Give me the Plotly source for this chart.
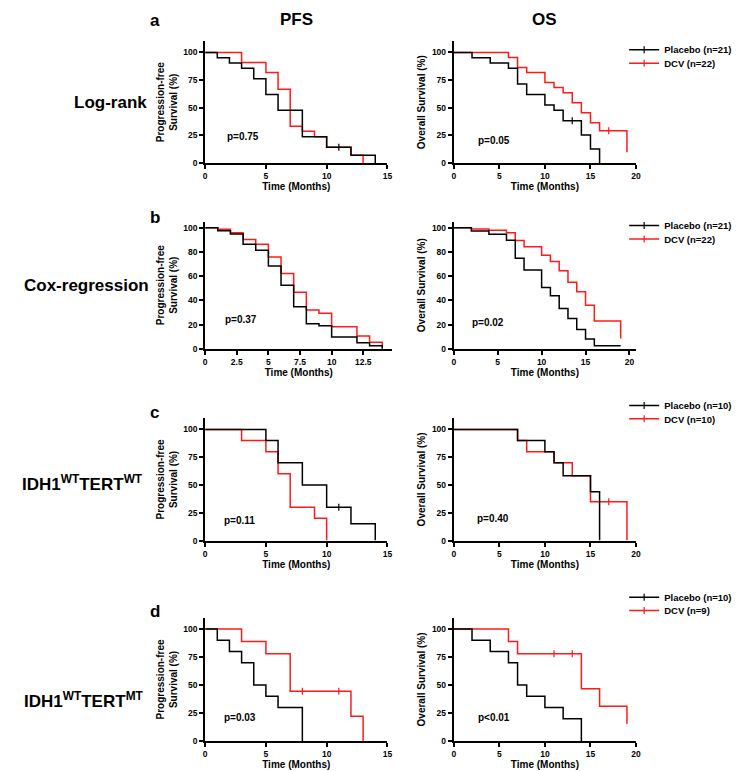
import plotly.graph_objects as go

FONT = "Arial, 'Liberation Sans', sans-serif"
W, H = 743, 771
BLACK = '#000000'
RED = '#ff1a1a'

# ---- data (time in months, survival in %) ----
# a: log-rank
a_pfs_plc_t = [0, 1, 2, 3, 4, 5, 6, 8, 10, 12, 14]
a_pfs_plc_s = [100, 95.2, 90.5, 85.7, 76.2, 61.9, 47.6, 23.8, 14.3, 7.1, 0]
a_pfs_plc_c = [11]
a_pfs_dcv_t = [0, 3, 5, 6, 7, 8, 9, 10, 12, 13]
a_pfs_dcv_s = [100, 90.9, 81.8, 66.7, 33.3, 28.6, 23.8, 14.3, 7.1, 0]
a_pfs_dcv_c = []
a_os_plc_t = [0, 2, 4, 6, 7, 8, 10, 11, 12, 14, 15, 16]
a_os_plc_s = [100, 95.2, 90.5, 85.7, 71.4, 61.9, 52.4, 47.6, 38.1, 25.4, 12.7, 0]
a_os_plc_c = [13]
a_os_dcv_t = [0, 6, 7, 8, 10, 11, 12, 13, 14, 15, 16, 19]
a_os_dcv_s = [100, 95.5, 86.4, 81.8, 72.7, 68.2, 63.6, 54.5, 45.5, 36.4, 29.1, 9.7]
a_os_dcv_c = [17]

# b: cox-regression
b_pfs_plc_t = [0, 1, 2, 3, 4, 5, 6, 7, 8, 9, 10, 12, 13, 14]
b_pfs_plc_s = [100, 97.5, 94.7, 86.4, 81.4, 68.4, 52.5, 34.6, 20.7, 19.0, 9.8, 5.0, 2.6, 0]
b_pfs_plc_c = []
b_pfs_dcv_t = [0, 1, 2, 3, 4, 5, 6, 7, 8, 9, 10, 12, 13, 14]
b_pfs_dcv_s = [100, 98.6, 95.9, 90.2, 86.3, 75.7, 62.2, 46.6, 32.1, 29.4, 18.1, 10.6, 5.3, 0]
b_pfs_dcv_c = []
b_os_plc_t = [0, 2, 4, 6, 7, 8, 10, 11, 12, 13, 14, 15, 16, 19]
b_os_plc_s = [100, 97.3, 94.6, 89.6, 74.7, 65.0, 50.6, 43.8, 33.3, 25.0, 16.0, 8.0, 2.5, 2.5]
b_os_plc_c = []
b_os_dcv_t = [0, 2, 4, 6, 7, 8, 10, 11, 12, 13, 14, 15, 16, 19]
b_os_dcv_s = [100, 98.8, 97.8, 95.9, 89.4, 84.3, 77.2, 72.0, 64.4, 55.0, 47.0, 36.0, 23.0, 8.5]
b_os_dcv_c = []

# c: IDH1 WT / TERT WT
c_pfs_plc_t = [0, 5, 6, 8, 10, 12, 14]
c_pfs_plc_s = [100, 90, 70, 50, 30, 15, 0]
c_pfs_plc_c = [11]
c_pfs_dcv_t = [0, 3, 5, 6, 7, 9, 10]
c_pfs_dcv_s = [100, 90, 80, 60, 30, 20, 0]
c_pfs_dcv_c = []
c_os_plc_t = [0, 7, 10, 11, 12, 15, 16]
c_os_plc_s = [100, 90, 80, 70, 58.3, 43.8, 0]
c_os_plc_c = []
c_os_dcv_t = [0, 7, 8, 11, 13, 15, 19]
c_os_dcv_s = [100, 90, 80, 70, 58.3, 35.0, 0]
c_os_dcv_c = [17]

# d: IDH1 WT / TERT MT
d_pfs_plc_t = [0, 1, 2, 3, 4, 5, 6, 8]
d_pfs_plc_s = [100, 90, 80, 70, 50, 40, 30, 0]
d_pfs_plc_c = []
d_pfs_dcv_t = [0, 3, 5, 7, 12, 13]
d_pfs_dcv_s = [100, 88.9, 77.8, 44.4, 22.2, 0]
d_pfs_dcv_c = [8, 11]
d_os_plc_t = [0, 2, 4, 6, 7, 8, 10, 12, 14]
d_os_plc_s = [100, 90, 80, 70, 50, 40, 30, 20, 0]
d_os_plc_c = []
d_os_dcv_t = [0, 6, 7, 14, 16, 19]
d_os_dcv_s = [100, 88.9, 77.8, 46.7, 31.1, 15.6]
d_os_dcv_c = [11, 13]

row_labels = ['Log-rank', 'Cox-regression',
              'IDH1<sup>WT</sup>TERT<sup>WT</sup>', 'IDH1<sup>WT</sup>TERT<sup>MT</sup>']
panel_letters = ['a', 'b', 'c', 'd']
legend_names = [('Placebo (n=21)', 'DCV (n=22)'), ('Placebo (n=21)', 'DCV (n=22)'),
                ('Placebo (n=10)', 'DCV (n=10)'), ('Placebo (n=10)', 'DCV (n=9)')]
p_values = [('p=0.75', 'p=0.05'), ('p=0.37', 'p=0.02'),
            ('p=0.11', 'p=0.40'), ('p=0.03', 'p<0.01')]
pfs_ticks = [[0, 5, 10, 15], [0, 2.5, 5, 7.5, 10, 12.5], [0, 5, 10, 15], [0, 5, 10, 15]]
os_ticks = [0, 5, 10, 15, 20]
y_ticks = [[0, 25, 50, 75, 100], [0, 20, 40, 60, 80, 100], [0, 25, 50, 75, 100], [0, 25, 50, 75, 100]]

curves = [
    [(a_pfs_plc_t, a_pfs_plc_s, a_pfs_plc_c, a_pfs_dcv_t, a_pfs_dcv_s, a_pfs_dcv_c),
     (a_os_plc_t, a_os_plc_s, a_os_plc_c, a_os_dcv_t, a_os_dcv_s, a_os_dcv_c)],
    [(b_pfs_plc_t, b_pfs_plc_s, b_pfs_plc_c, b_pfs_dcv_t, b_pfs_dcv_s, b_pfs_dcv_c),
     (b_os_plc_t, b_os_plc_s, b_os_plc_c, b_os_dcv_t, b_os_dcv_s, b_os_dcv_c)],
    [(c_pfs_plc_t, c_pfs_plc_s, c_pfs_plc_c, c_pfs_dcv_t, c_pfs_dcv_s, c_pfs_dcv_c),
     (c_os_plc_t, c_os_plc_s, c_os_plc_c, c_os_dcv_t, c_os_dcv_s, c_os_dcv_c)],
    [(d_pfs_plc_t, d_pfs_plc_s, d_pfs_plc_c, d_pfs_dcv_t, d_pfs_dcv_s, d_pfs_dcv_c),
     (d_os_plc_t, d_os_plc_s, d_os_plc_c, d_os_dcv_t, d_os_dcv_s, d_os_dcv_c)],
]

# ---- layout geometry (pixels) ----
row_px = [(156, 33.6), (343, 215), (536, 413), (738, 613.7)]   # (y of 0, top of axis)
y_top = [110, 105, 110, 110]
pfs_px = [(197, 381), (197, 386), (197, 381), (197, 381)]
pfs_max = [15, 14.8, 15, 15]
os_px = (448, 632)
os_max = [20, 20.75, 20, 20]
label_y = [95, 279, 478, 697]
label_x = [101, 77, 73, 75]
letter_y = [13, 211, 407, 607]
legend_y = [42, 219, 400, 593]
p_pos = [((1.6, 24), (2.4, 20.7)), ((1.4, 23.8), (1.8, 21.5)),
         ((1.4, 17.9), (2.3, 19.7)), ((1.4, 21), (2.4, 21))]


def px_x(p):
    return p / W


def px_y(p):
    return 1 - p / H


def step_value(t, s, x):
    v = s[0]
    for ti, si in zip(t, s):
        if ti <= x:
            v = si
    return v


fig = go.Figure()
layout = dict(width=W, height=H, margin=dict(l=0, r=0, t=0, b=0),
              paper_bgcolor='white', plot_bgcolor='white', showlegend=True,
              font=dict(family=FONT, color='black'))
annotations = []
tick_font = dict(family=FONT, size=8.5, color='black', weight='bold')
title_font = dict(family=FONT, size=10, color='black', weight='bold')

n = 0
for r in range(4):
    ydom = [px_y(row_px[r][0]), px_y(row_px[r][1])]
    for c in range(2):
        n += 1
        xa = 'xaxis' if n == 1 else 'xaxis%d' % n
        ya = 'yaxis' if n == 1 else 'yaxis%d' % n
        xr = 'x' if n == 1 else 'x%d' % n
        yr = 'y' if n == 1 else 'y%d' % n
        if c == 0:
            xdom = [px_x(pfs_px[r][0]), px_x(pfs_px[r][1])]
            xmax = pfs_max[r]
            xticks = pfs_ticks[r]
            ytitle = 'Progression-free<br>Survival (%)'
        else:
            xdom = [px_x(os_px[0]), px_x(os_px[1])]
            xmax = os_max[r]
            xticks = os_ticks
            ytitle = 'Overall Survival (%)'
        layout[xa] = dict(domain=xdom, range=[0, xmax], anchor=yr, tickvals=xticks,
                          ticktext=[('%g' % v) for v in xticks],
                          ticks='outside', ticklen=4, tickwidth=1.5, tickcolor='black',
                          showline=True, linewidth=2, linecolor='black',
                          showgrid=False, zeroline=False, tickfont=tick_font,
                          title=dict(text='Time (Months)', font=title_font, standoff=3))
        layout[ya] = dict(domain=ydom, range=[0, y_top[r]], anchor=xr, tickvals=y_ticks[r],
                          ticks='outside', ticklen=4, tickwidth=1.5, tickcolor='black',
                          showline=True, linewidth=2, linecolor='black',
                          showgrid=False, zeroline=False, tickfont=tick_font,
                          title=dict(text=ytitle, font=title_font, standoff=4))

        pt, ps, pc, dt, ds, dc = curves[r][c]
        for t, s, cens, col in ((dt, ds, dc, RED), (pt, ps, pc, BLACK)):
            fig.add_trace(go.Scatter(x=t, y=s, mode='lines', line=dict(color=col, width=1.5, shape='hv'),
                                     xaxis=xr, yaxis=yr, showlegend=False, hoverinfo='skip'))
            if cens:
                fig.add_trace(go.Scatter(x=cens, y=[step_value(t, s, x) for x in cens], mode='markers',
                                         marker=dict(symbol='line-ns-open', size=5, color=col,
                                                     line=dict(color=col, width=1.2)),
                                         xaxis=xr, yaxis=yr, showlegend=False, hoverinfo='skip'))

        px_, py_ = p_pos[r][c]
        annotations.append(dict(x=px_, y=py_, xref=xr, yref=yr, text=p_values[r][c],
                                showarrow=False, xanchor='left', yanchor='middle',
                                font=dict(family=FONT, size=10, color='black', weight='bold')))

    # legend for this row: two single-item legends
    for k, col in enumerate((BLACK, RED)):
        lname = 'legend%d' % (2 * r + k + 1) if (2 * r + k) > 0 else 'legend'
        fig.add_trace(go.Scatter(x=[None], y=[None], mode='lines+markers', name=legend_names[r][k],
                                 line=dict(color=col, width=1.5),
                                 marker=dict(symbol='line-ns-open', size=5, color=col,
                                             line=dict(color=col, width=1.2)),
                                 legend=lname, xaxis='x', yaxis='y'))
        layout[lname] = dict(x=px_x(620), y=px_y(legend_y[r] + 13.5 * k), xanchor='left', yanchor='middle',
                             bgcolor='rgba(0,0,0,0)', borderwidth=0,
                             font=dict(family=FONT, size=9.5, color='black', weight='bold'))

    annotations.append(dict(x=px_x(label_x[r]), y=px_y(label_y[r]), xref='paper', yref='paper',
                            text=row_labels[r], showarrow=False, xanchor='center', yanchor='middle',
                            font=dict(family=FONT, size=17, color='black', weight='bold')))
    annotations.append(dict(x=px_x(146), y=px_y(letter_y[r]), xref='paper', yref='paper',
                            text=panel_letters[r], showarrow=False, xanchor='center', yanchor='middle',
                            font=dict(family=FONT, size=17, color='black', weight='bold')))

for text, cx in (('PFS', 289), ('OS', 540)):
    annotations.append(dict(x=px_x(cx), y=px_y(12), xref='paper', yref='paper', text=text,
                            showarrow=False, xanchor='center', yanchor='middle',
                            font=dict(family=FONT, size=17, color='black', weight='bold')))

layout['annotations'] = annotations
fig.update_layout(**layout)
fig.write_html("out.html")
